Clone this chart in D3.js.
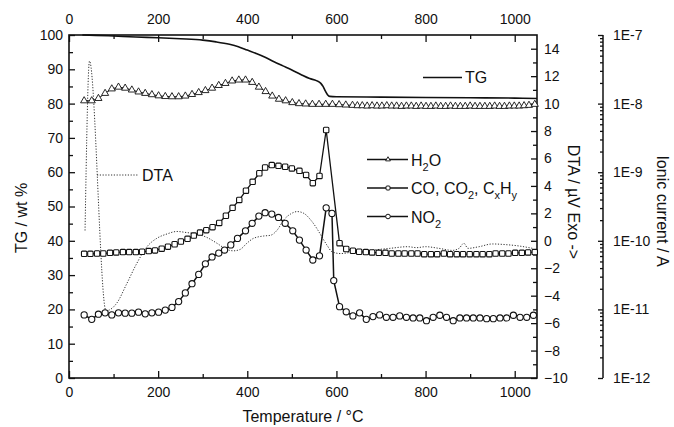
<!DOCTYPE html>
<html lang="en">
<head>
	<meta charset="utf-8">
	<title>TG / DTA / MS</title>
	<script src="https://d3js.org/d3.v7.min.js"></script>
	<style>
		body { margin: 0; background: #fff; }
		svg text { font-family: Arial, "Liberation Sans", sans-serif; fill: #111; }
	</style>
</head>
<body>
	<div id="chart"></div>
	<script>
		// ---- data ----
		var tempTicks = [0, 200, 400, 600, 800, 1000];
		var tempMinor = [100, 300, 500, 700, 900];
		var tgTicks = [0, 10, 20, 30, 40, 50, 60, 70, 80, 90, 100];
		var tgMinor = [5, 15, 25, 35, 45, 55, 65, 75, 85, 95];
		var dtaTicks = [-10, -8, -6, -4, -2, 0, 2, 4, 6, 8, 10, 12, 14];
		var dtaMinor = [-9, -7, -5, -3, -1, 1, 3, 5, 7, 9, 11, 13];
		var ionTicks = [1e-12, 1e-11, 1e-10, 1e-9, 1e-8, 1e-7];
		var ionTickLabels = ["1E-12", "1E-11", "1E-10", "1E-9", "1E-8", "1E-7"];

		// TG, wt %
		var tgTemp = [30, 60, 100, 150, 200, 250, 300, 330, 360, 380, 400, 420, 440, 460, 480, 500, 520, 540, 555, 565, 570, 575, 580, 585, 600, 700, 800, 900, 1000, 1050];
		var tgMass = [100, 99.9, 99.7, 99.4, 99.2, 98.9, 98.5, 98.0, 97.3, 96.6, 95.6, 94.6, 93.5, 92.2, 91.0, 89.8, 88.5, 87.3, 86.7, 85.9, 85.0, 83.7, 82.6, 82.1, 82.0, 81.9, 81.8, 81.7, 81.6, 81.5];

		// DTA, uV
		var dtaTemp = [36, 46, 83, 107, 130, 152, 175, 197, 220, 242, 264, 287, 309, 332, 354, 369, 384, 399, 414, 437, 452, 467, 482, 497, 512, 527, 542, 557, 568, 580, 590, 609, 640, 680, 720, 760, 780, 800, 830, 860, 875, 886, 895, 920, 950, 980, 1010, 1040];
		var dtaSignal = [0.75, 13.1, -5.1, -4.55, -3.1, -1.65, -0.43, 0.18, 0.5, 0.68, 0.6, 0.5, 0.25, -0.18, -0.63, -0.73, -0.63, -0.18, 0.18, 0.35, 0.4, 0.78, 1.53, 1.95, 2.13, 2.0, 1.53, 0.85, 0.25, -0.38, -0.8, -0.93, -0.8, -0.68, -0.55, -0.43, -0.5, -0.43, -0.55, -0.7, -0.55, -0.18, -0.55, -0.43, -0.23, -0.28, -0.38, -0.55];

		// ionic currents, A
		var h2oTemp = [34, 51, 66, 81, 96, 111, 126, 141, 156, 171, 186, 201, 216, 231, 246, 261, 276, 291, 306, 321, 336, 351, 366, 381, 396, 411, 426, 441, 456, 471, 486, 501, 516, 531, 546, 561, 576, 591, 606, 621, 636,
			647, 658, 669, 680, 691, 702, 713, 724, 735, 746, 757, 768, 779, 790, 801, 812, 823, 834, 845, 856, 867, 878, 889, 900, 911, 922, 933, 944, 955, 966, 977, 988, 999, 1010, 1021, 1032, 1045];
		var h2oCurrent = [1.10e-8, 1.10e-8, 1.19e-8, 1.41e-8, 1.64e-8, 1.74e-8, 1.68e-8, 1.58e-8, 1.48e-8, 1.41e-8, 1.35e-8, 1.30e-8, 1.27e-8, 1.26e-8, 1.26e-8, 1.29e-8, 1.36e-8, 1.45e-8, 1.55e-8, 1.68e-8, 1.84e-8, 1.97e-8, 2.14e-8, 2.21e-8, 2.21e-8, 2.04e-8, 1.74e-8, 1.50e-8, 1.29e-8, 1.16e-8, 1.10e-8, 1.035e-8, 1.00e-8, 9.89e-9, 9.77e-9, 9.77e-9, 9.77e-9, 9.77e-9, 9.66e-9, 9.55e-9, 9.44e-9,
			9.33e-9, 9.33e-9, 9.23e-9, 9.33e-9, 9.23e-9, 9.23e-9, 9.33e-9, 9.23e-9, 9.23e-9, 9.12e-9, 9.23e-9, 9.23e-9, 9.12e-9, 9.23e-9, 9.12e-9, 9.12e-9, 9.23e-9, 9.12e-9, 9.12e-9, 9.23e-9, 9.12e-9, 9.12e-9, 9.12e-9, 9.23e-9, 9.12e-9, 9.12e-9, 9.12e-9, 9.12e-9, 9.23e-9, 9.12e-9, 9.12e-9, 9.23e-9, 9.23e-9, 9.23e-9, 9.33e-9, 9.44e-9, 9.77e-9];

		var coTemp = [34, 48, 63, 77, 92, 106, 121, 135, 150, 164, 179, 193, 208, 222, 237, 251, 266, 280, 294, 308, 322, 337, 352, 367, 382, 397, 412, 427, 440, 455, 470, 485, 500, 517, 532, 547, 562, 577, 607, 622, 637, 651, 666, 680, 695, 710, 724, 739, 753, 768, 782, 797, 812, 826, 841, 855, 870, 884, 899, 914, 928, 943, 957, 972, 986, 1001, 1016, 1030, 1045];
		var coCurrent = [6.46e-11, 6.46e-11, 6.53e-11, 6.53e-11, 6.68e-11, 6.76e-11, 6.84e-11, 6.84e-11, 6.84e-11, 6.92e-11, 7.08e-11, 7.24e-11, 7.67e-11, 8.22e-11, 8.91e-11, 9.77e-11, 1.07e-10, 1.19e-10, 1.32e-10, 1.43e-10, 1.58e-10, 1.82e-10, 2.32e-10, 3.02e-10, 3.94e-10, 5.37e-10, 7.24e-10, 9.66e-10, 1.17e-9, 1.27e-9, 1.24e-9, 1.20e-9, 1.135e-9, 1.047e-9, 9.12e-10, 6.92e-10, 8.81e-10, 4.12e-9, 9.23e-11, 7.59e-11, 7.16e-11, 6.92e-11, 6.84e-11, 6.76e-11, 6.68e-11, 6.68e-11, 6.53e-11, 6.53e-11, 6.53e-11, 6.53e-11, 6.53e-11, 6.38e-11, 6.38e-11, 6.38e-11, 6.53e-11, 6.38e-11, 6.38e-11, 6.38e-11, 6.38e-11, 6.38e-11, 6.38e-11, 6.38e-11, 6.53e-11, 6.53e-11, 6.53e-11, 6.68e-11, 6.68e-11, 6.76e-11, 6.84e-11];

		var no2Temp = [34, 51, 66, 81, 96, 111, 126, 141, 156, 171, 186, 201, 216, 231, 246, 261, 276, 291, 306, 321, 336, 349, 363, 378, 396, 411, 426, 440, 455, 470, 485, 502, 517, 532, 547, 562, 577, 590, 594, 607, 622, 637, 652, 667, 682, 697, 712, 727, 742, 757, 772, 787, 802, 817, 832, 847, 862, 877, 892, 907, 922, 937, 952, 967, 982, 997, 1012, 1027, 1042];
		var no2Current = [8.32e-12, 7.16e-12, 8.51e-12, 8.91e-12, 8.32e-12, 8.91e-12, 8.81e-12, 8.81e-12, 9.12e-12, 8.61e-12, 8.91e-12, 9.12e-12, 9.77e-12, 1.07e-11, 1.30e-11, 1.74e-11, 2.37e-11, 3.24e-11, 4.62e-11, 5.82e-11, 6.61e-11, 7.33e-11, 8.71e-11, 1.084e-10, 1.40e-10, 1.80e-10, 2.29e-10, 2.57e-10, 2.45e-10, 2.19e-10, 1.80e-10, 1.40e-10, 1.023e-10, 7.33e-11, 5.25e-11, 6.03e-11, 3.02e-10, 2.51e-10, 2.63e-11, 1.096e-11, 9.23e-12, 8.04e-12, 8.91e-12, 7.16e-12, 7.85e-12, 8.32e-12, 7.67e-12, 7.67e-12, 8.04e-12, 7.67e-12, 7.50e-12, 7.50e-12, 6.84e-12, 7.67e-12, 8.22e-12, 7.67e-12, 6.84e-12, 7.50e-12, 7.50e-12, 7.50e-12, 7.50e-12, 7.33e-12, 7.33e-12, 7.50e-12, 7.50e-12, 8.22e-12, 7.67e-12, 7.67e-12, 8.22e-12];

		// ---- layout ----
		var width = 674, height = 427;
		var plotLeft = 69, plotRight = 537, plotTop = 35, plotBottom = 378;
		var ionAxisX = 603;

		var svg = d3.select("#chart").append("svg")
			.attr("width", width)
			.attr("height", height);

		var x = d3.scaleLinear().domain([0, 1050]).range([plotLeft, plotRight]);
		var yTG = d3.scaleLinear().domain([0, 100]).range([plotBottom, plotTop]);
		var yDTA = d3.scaleLinear().domain([-10, 15]).range([plotBottom, plotTop]);
		var yIon = d3.scaleLog().domain([1e-12, 1e-7]).range([plotBottom, plotTop]);

		var intFmt = d3.format("d");

		function styleAxis(g) {
			g.select(".domain").remove();
			g.selectAll(".tick line").attr("stroke", "#111").attr("stroke-width", 1.3);
			g.selectAll(".tick text").style("font-size", "14px").attr("fill", "#111")
				.style("font-family", "Arial, 'Liberation Sans', sans-serif");
		}

		// bottom
		svg.append("g").attr("transform", "translate(0," + plotBottom + ")")
			.call(d3.axisBottom(x).tickValues(tempTicks).tickFormat(intFmt).tickSizeInner(-7).tickSizeOuter(0).tickPadding(9))
			.call(styleAxis);
		svg.append("g").attr("transform", "translate(0," + plotBottom + ")")
			.call(d3.axisBottom(x).tickValues(tempMinor).tickSizeInner(-4).tickSizeOuter(0).tickFormat(""))
			.call(styleAxis);
		// top
		svg.append("g").attr("transform", "translate(0," + plotTop + ")")
			.call(d3.axisTop(x).tickValues(tempTicks).tickFormat(intFmt).tickSizeInner(-7).tickSizeOuter(0).tickPadding(11))
			.call(styleAxis);
		svg.append("g").attr("transform", "translate(0," + plotTop + ")")
			.call(d3.axisTop(x).tickValues(tempMinor).tickSizeInner(-4).tickSizeOuter(0).tickFormat(""))
			.call(styleAxis);
		// left TG
		svg.append("g").attr("transform", "translate(" + plotLeft + ",0)")
			.call(d3.axisLeft(yTG).tickValues(tgTicks).tickFormat(intFmt).tickSizeInner(-6).tickSizeOuter(0).tickPadding(6))
			.call(styleAxis);
		svg.append("g").attr("transform", "translate(" + plotLeft + ",0)")
			.call(d3.axisLeft(yTG).tickValues(tgMinor).tickSizeInner(-4).tickSizeOuter(0).tickFormat(""))
			.call(styleAxis);
		// right DTA
		svg.append("g").attr("transform", "translate(" + plotRight + ",0)")
			.call(d3.axisRight(yDTA).tickValues(dtaTicks).tickFormat(intFmt).tickSizeInner(-6).tickSizeOuter(0).tickPadding(7))
			.call(styleAxis);
		svg.append("g").attr("transform", "translate(" + plotRight + ",0)")
			.call(d3.axisRight(yDTA).tickValues(dtaMinor).tickSizeInner(-4).tickSizeOuter(0).tickFormat(""))
			.call(styleAxis);

		// ionic current axis (log)
		var ionMinor = [];
		ionTicks.slice(0, 5).forEach(function(t) {
			for (var k = 2; k <= 9; k++) ionMinor.push(t * k);
		});
		svg.append("g").attr("transform", "translate(" + ionAxisX + ",0)")
			.call(d3.axisRight(yIon).tickValues(ionTicks).tickFormat(function(d, i) { return ionTickLabels[i]; })
				.tickSizeInner(-5).tickSizeOuter(0).tickPadding(10))
			.call(styleAxis);
		svg.append("g").attr("transform", "translate(" + ionAxisX + ",0)")
			.call(d3.axisRight(yIon).tickValues(ionMinor).tickFormat("").tickSizeInner(-3).tickSizeOuter(0))
			.call(styleAxis);
		svg.append("line")
			.attr("x1", ionAxisX).attr("x2", ionAxisX)
			.attr("y1", plotTop).attr("y2", plotBottom)
			.attr("stroke", "#111").attr("stroke-width", 1.5);

		// frame
		svg.append("rect")
			.attr("x", plotLeft).attr("y", plotTop)
			.attr("width", plotRight - plotLeft).attr("height", plotBottom - plotTop)
			.attr("fill", "none").attr("stroke", "#111").attr("stroke-width", 1.6);

		// axis titles
		svg.append("text")
			.attr("transform", "translate(21,218) rotate(-90)")
			.attr("text-anchor", "middle").attr("dominant-baseline", "central")
			.style("font-size", "16px").text("TG / wt %");
		svg.append("text")
			.attr("x", 303).attr("y", 422)
			.attr("text-anchor", "middle")
			.style("font-size", "16px").text("Temperature / °C");
		svg.append("text")
			.attr("transform", "translate(573,202) rotate(90)")
			.attr("text-anchor", "middle").attr("dominant-baseline", "central")
			.style("font-size", "16px").text("DTA / µV Exo ->");
		svg.append("text")
			.attr("transform", "translate(662,211) rotate(90)")
			.attr("text-anchor", "middle").attr("dominant-baseline", "central")
			.style("font-size", "16px").text("Ionic current / A");

		// ---- series ----
		function pts(ts, vs) {
			return ts.map(function(t, i) { return {t: t, v: vs[i]}; });
		}
		var tgData = pts(tgTemp, tgMass);
		var dtaData = pts(dtaTemp, dtaSignal);
		var h2oData = pts(h2oTemp, h2oCurrent);
		var coData = pts(coTemp, coCurrent);
		var no2Data = pts(no2Temp, no2Current);

		function lineFor(scale, curve) {
			return d3.line()
				.x(function(d) { return x(d.t); })
				.y(function(d) { return scale(d.v); })
				.curve(curve || d3.curveLinear);
		}

		// DTA dotted
		svg.append("path")
			.datum(dtaData)
			.attr("fill", "none")
			.attr("stroke", "#333")
			.attr("stroke-width", 1)
			.attr("stroke-dasharray", "1.2,1.6")
			.attr("d", lineFor(yDTA, d3.curveMonotoneX));

		// TG
		svg.append("path")
			.datum(tgData)
			.attr("fill", "none")
			.attr("stroke", "#111")
			.attr("stroke-width", 1.6)
			.attr("d", lineFor(yTG, d3.curveMonotoneX));

		// H2O
		svg.append("path")
			.datum(h2oData)
			.attr("fill", "none").attr("stroke", "#111").attr("stroke-width", 1)
			.attr("d", lineFor(yIon));
		var triangle = d3.symbol().type(d3.symbolTriangle).size(22);
		svg.append("g").selectAll("path")
			.data(h2oData)
			.enter().append("path")
			.attr("d", triangle)
			.attr("transform", function(d) { return "translate(" + x(d.t) + "," + yIon(d.v) + ")"; })
			.attr("fill", "#fff").attr("stroke", "#111").attr("stroke-width", 0.9);

		// CO, CO2, CxHy
		svg.append("path")
			.datum(coData)
			.attr("fill", "none").attr("stroke", "#111").attr("stroke-width", 1.3)
			.attr("d", lineFor(yIon));
		svg.append("g").selectAll("rect")
			.data(coData)
			.enter().append("rect")
			.attr("x", function(d) { return x(d.t) - 2.7; })
			.attr("y", function(d) { return yIon(d.v) - 2.7; })
			.attr("width", 5.4).attr("height", 5.4).attr("rx", 1)
			.attr("fill", "#fff").attr("stroke", "#111").attr("stroke-width", 1.1);

		// NO2
		svg.append("path")
			.datum(no2Data)
			.attr("fill", "none").attr("stroke", "#111").attr("stroke-width", 1.5)
			.attr("d", lineFor(yIon));
		svg.append("g").selectAll("circle")
			.data(no2Data)
			.enter().append("circle")
			.attr("cx", function(d) { return x(d.t); })
			.attr("cy", function(d) { return yIon(d.v); })
			.attr("r", 3.1)
			.attr("fill", "#fff").attr("stroke", "#111").attr("stroke-width", 1.1);

		// ---- labels / legend ----
		svg.append("line")
			.attr("x1", 97).attr("x2", 138).attr("y1", 175).attr("y2", 175)
			.attr("stroke", "#333").attr("stroke-dasharray", "1.2,1.6");
		svg.append("text").attr("x", 142).attr("y", 181)
			.style("font-size", "16px").text("DTA");

		svg.append("line")
			.attr("x1", 423).attr("x2", 462).attr("y1", 77.5).attr("y2", 77.5)
			.attr("stroke", "#111").attr("stroke-width", 1.6);
		svg.append("text").attr("x", 465).attr("y", 83)
			.style("font-size", "16px").text("TG");

		var legendRows = [
			{y: 159.5, parts: [["H", 0], ["2", 1], ["O", 0]], mark: "tri"},
			{y: 188, parts: [["CO, CO", 0], ["2", 1], [", C", 0], ["x", 1], ["H", 0], ["y", 1]], mark: "sq"},
			{y: 216.5, parts: [["NO", 0], ["2", 1]], mark: "circ"}
		];
		legendRows.forEach(function(row) {
			svg.append("line")
				.attr("x1", 367).attr("x2", 408).attr("y1", row.y).attr("y2", row.y)
				.attr("stroke", "#111").attr("stroke-width", 1.3);
			if (row.mark === "tri") {
				svg.append("path").attr("d", d3.symbol().type(d3.symbolTriangle).size(10))
					.attr("transform", "translate(388," + row.y + ")")
					.attr("fill", "#fff").attr("stroke", "#111").attr("stroke-width", 0.9);
			} else if (row.mark === "sq") {
				svg.append("rect").attr("x", 386).attr("y", row.y - 2).attr("width", 4).attr("height", 4).attr("rx", 1)
					.attr("fill", "#fff").attr("stroke", "#111").attr("stroke-width", 1);
			} else {
				svg.append("circle").attr("cx", 388).attr("cy", row.y).attr("r", 2.3)
					.attr("fill", "#fff").attr("stroke", "#111").attr("stroke-width", 1);
			}
			var t = svg.append("text").attr("x", 411).attr("y", row.y + 6).style("font-size", "16px");
			var sub = 0;
			row.parts.forEach(function(p) {
				var dy = 0;
				if (p[1] && !sub) dy = 5;
				if (!p[1] && sub) dy = -5;
				sub = p[1];
				t.append("tspan").attr("dy", dy).style("font-size", p[1] ? "11px" : "16px").text(p[0]);
			});
		});
	</script>
</body>
</html>
